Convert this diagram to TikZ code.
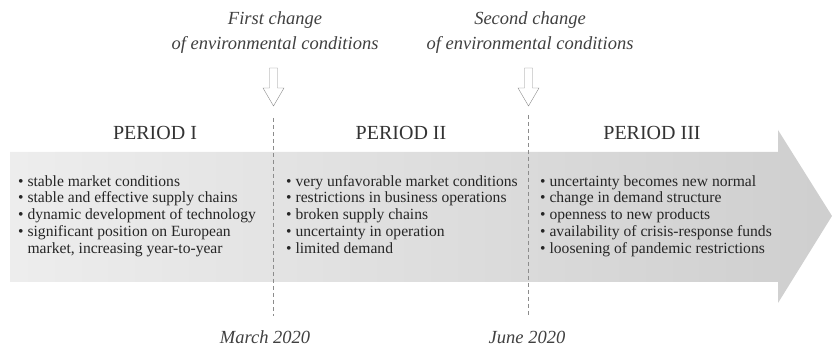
\documentclass[tikz,border=0pt]{standalone}
\usepackage{fontspec}
\setmainfont{Liberation Serif}
\usetikzlibrary{positioning, calc}

\begin{document}
\begin{tikzpicture}[x=1pt, y=1pt]
        % Define styles
        \tikzstyle{period} = [font=\fontsize{20}{22}\selectfont, text=black!80]
        \tikzstyle{list} = [anchor=north west, align=left, inner sep=0pt, font=\fontsize{15.6}{16.8}\selectfont, text=black!85]
        \tikzstyle{change} = [align=center, font=\fontsize{18.5}{25}\selectfont\itshape, text=black!75]
        \tikzstyle{hollowarrow} = [draw=black!45, fill=white, thin, line join=miter]
        \tikzstyle{divider} = [draw=black!45, thin, dash pattern=on 4pt off 3pt]

        \useasboundingbox (0,0) rectangle (832,347);

        % Time arrow in the background
        \shade[left color=black!7, right color=black!19] (10,65) -- (778,65) -- (778,44) -- (832,131) -- (778,217) -- (778,195) -- (10,195) -- cycle;

        % Borders between the periods
        \coordinate (top1) at (273,229);
        \coordinate (bot1) at (273,31);
        \coordinate (top2) at (528,232);
        \coordinate (bot2) at (528,31);
        \draw[divider] (top1) -- (bot1);
        \draw[divider] (top2) -- (bot2);

        % Changes of conditions
        \node[change] (change1) at (275,314) {First change\\of environmental conditions};
        \node[change] (change2) at (530,314) {Second change\\of environmental conditions};
        \coordinate (arrow1) at (273.5,279);
        \coordinate (arrow2) at (528.5,279);
        \foreach \a in {arrow1, arrow2}
            \draw[hollowarrow] (\a) ++(-4,0) -- ++(8,0) -- ++(0,-20) -- ++(6.5,0) -- ++(-10.5,-18) -- ++(-10.5,18) -- ++(6.5,0) -- cycle;

        % Place period titles
        \node[period] (p1) at (155,214) {PERIOD I};
        \node[period] (p2) at (401,214) {PERIOD II};
        \node[period] (p3) at (652,214) {PERIOD III};

        % Place lists
        \node[list] (list1) at (18,172) {\textbullet~stable market conditions\\
                \textbullet~stable and effective supply chains\\
                \textbullet~dynamic development of technology\\
                \textbullet~significant position on European\\
                \phantom{\textbullet~}market, increasing year-to-year};
        \node[list] (list2) at (286,172) {\textbullet~very unfavorable market conditions\\
                \textbullet~restrictions in business operations\\
                \textbullet~broken supply chains\\
                \textbullet~uncertainty in operation\\
                \textbullet~limited demand};
        \node[list] (list3) at (540,172) {\textbullet~uncertainty becomes new normal\\
                \textbullet~change in demand structure\\
                \textbullet~openness to new products\\
                \textbullet~availability of crisis-response funds\\
                \textbullet~loosening of pandemic restrictions};

        % Dates below the borders
        \node[change] (date1) at (265,10) {March 2020};
        \node[change] (date2) at (527,10) {June 2020};
    \end{tikzpicture}
\end{document}
